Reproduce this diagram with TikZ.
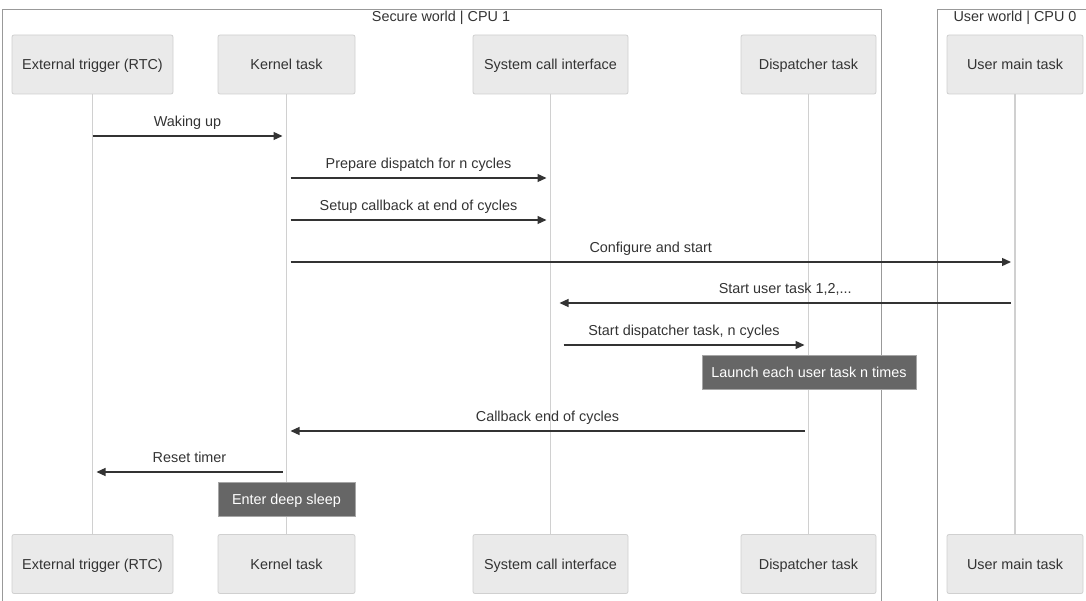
\documentclass[tikz,border=0pt]{standalone}
\usepackage{fontspec}
\setmainfont{Liberation Sans}
\usetikzlibrary{arrows.meta}
\definecolor{txt}{HTML}{333333}
\definecolor{actfill}{HTML}{EAEAEA}
\definecolor{actline}{HTML}{D0D0D0}
\definecolor{notefill}{HTML}{666666}
\tikzset{
  actor/.style={draw=actline,fill=actfill,rounded corners=2pt,line width=0.8pt,
    minimum height=59pt,text=txt,text height=13pt,text depth=3pt,
    font=\fontsize{14.4}{17}\selectfont},
  life/.style={draw=actline,line width=1.6pt},
  msg/.style={draw=txt,line width=1.3pt,-{Triangle[length=9pt,width=8pt]}},
  lbl/.style={text=txt,text height=13pt,text depth=3pt,font=\fontsize{14.4}{17}\selectfont},
  note/.style={draw=gray!70,fill=notefill,text=white,line width=0.8pt,
    minimum height=34pt,text height=13pt,text depth=3pt,font=\fontsize{14.4}{17}\selectfont},
  frame/.style={draw=gray!80,line width=0.9pt}
}
\begin{document}
\begin{tikzpicture}[x=1pt,y=-1pt]
\useasboundingbox (0,0) rectangle (1086,601);
% frames
\draw[frame] (2,615)--(2,9)--(881,9)--(881,615);
\draw[frame] (1095,9)--(937,9)--(937,615);
\node[lbl] (sw) at (441,17) {Secure world | CPU 1};
\node[lbl] (uw) at (1015,17) {User world | CPU 0};
% actors top
\node[actor,minimum width=161pt] (ext) at (92.5,64.5) {External trigger (RTC)};
\node[actor,minimum width=137pt] (kern) at (286.5,64.5) {Kernel task};
\node[actor,minimum width=155pt] (sys) at (550.5,64.5) {System call interface};
\node[actor,minimum width=135pt] (disp) at (808.5,64.5) {Dispatcher task};
\node[actor,minimum width=136pt] (umain) at (1015,64.5) {User main task};
% actors bottom
\node[actor,minimum width=161pt] (extB) at (92.5,564) {External trigger (RTC)};
\node[actor,minimum width=137pt] (kernB) at (286.5,564) {Kernel task};
\node[actor,minimum width=155pt] (sysB) at (550.5,564) {System call interface};
\node[actor,minimum width=135pt] (dispB) at (808.5,564) {Dispatcher task};
\node[actor,minimum width=136pt] (umainB) at (1015,564) {User main task};
% lifelines
\draw[life] (ext) -- (extB);
\draw[life] (kern) -- (kernB);
\draw[life] (sys) -- (sysB);
\draw[life] (disp) -- (dispB);
\draw[life] (umain) -- (umainB);
% messages
\draw[msg] (ext |- 0,136) -- node[lbl,above=2.5pt] {Waking up} ([xshift=-4pt]kern |- 0,136);
\draw[msg] ([xshift=4pt]kern |- 0,178) -- node[lbl,above=2.5pt] {Prepare dispatch for n cycles} ([xshift=-4pt]sys |- 0,178);
\draw[msg] ([xshift=4pt]kern |- 0,220) -- node[lbl,above=2.5pt] {Setup callback at end of cycles} ([xshift=-4pt]sys |- 0,220);
\draw[msg] ([xshift=4pt]kern |- 0,262) -- node[lbl,above=2.5pt] {Configure and start} ([xshift=-4pt]umain |- 0,262);
\draw[msg] ([xshift=-4pt]umain |- 0,303) -- node[lbl,above=2.5pt] {Start user task 1,2,...} ([xshift=9pt]sys |- 0,303);
\draw[msg] ([xshift=13pt]sys |- 0,345) -- node[lbl,above=2.5pt] {Start dispatcher task, n cycles} ([xshift=-4pt]disp |- 0,345);
\node[note,minimum width=214pt] (launch) at (809,372) {Launch each user task n times};
\draw[msg] ([xshift=-4pt]disp |- 0,431) -- node[lbl,above=2.5pt] {Callback end of cycles} ([xshift=4pt]kern |- 0,431);
\draw[msg] ([xshift=-4pt]kern |- 0,472) -- node[lbl,above=2.5pt] {Reset timer} ([xshift=4pt]ext |- 0,472);
\node[note,minimum width=137pt] (sleep) at (286.5,499) {Enter deep sleep};
\end{tikzpicture}
\end{document}
